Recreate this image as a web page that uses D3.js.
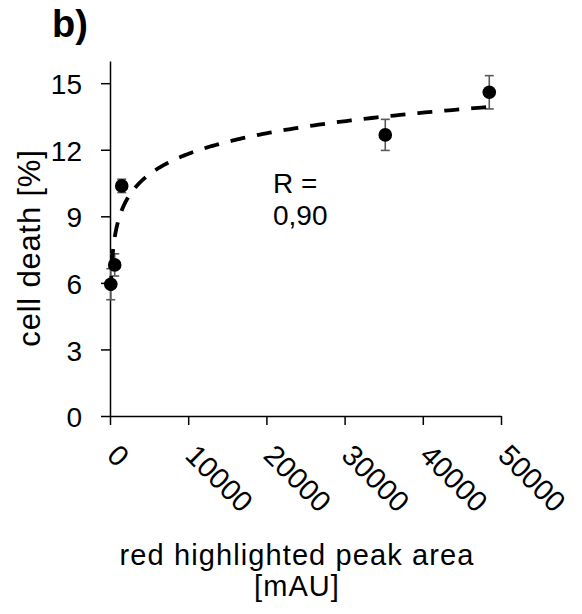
<!DOCTYPE html>
<html>
<head>
<meta charset="utf-8">
<script src="https://cdn.jsdelivr.net/npm/d3@7"></script>
<style>
  html, body { margin: 0; padding: 0; background: #fff; }
  svg { display: block; font-family: "Liberation Sans", Arial, sans-serif; }
</style>
</head>
<body>
<svg id="chart" width="582" height="614"></svg>
<script>
// ---- data ----
const peakArea  = [100, 600, 1500, 35200, 48500];   // x: red highlighted peak area [mAU]
const cellDeath = [5.94, 6.81, 10.37, 12.67, 14.59]; // y: cell death [%]
const errDeath  = [0.7, 0.5, 0.3, 0.7, 0.75];        // error bars
const xTicks = [0, 10000, 20000, 30000, 40000, 50000];
const yTicks = [0, 3, 6, 9, 12, 15];
const panelLabel = "b)";
const rLabel = ["R =", "0,90"];
const xTitle = ["red highlighted peak area", "[mAU]"];
const yTitle = "cell death [%]";

const svg = d3.select("#chart");
const x = d3.scaleLinear().domain([0, 50000]).range([110, 501]);
const y = d3.scaleLinear().domain([0, 16]).range([416, 61]);

// axes
const yAxis = d3.axisLeft(y).tickValues(yTicks).tickSizeInner(9).tickSizeOuter(0).tickPadding(19)
  .tickFormat(d3.format("d"));
const gy = svg.append("g").attr("transform", `translate(${x(0)},0)`).call(yAxis);
gy.selectAll("path, line").attr("stroke", "#000").attr("stroke-width", 1.5);
gy.selectAll("text").attr("font-size", 28).attr("fill", "#000").attr("dy", "0.38em")
  .attr("font-family", "Liberation Sans, Arial, sans-serif");

const xAxis = d3.axisBottom(x).tickValues(xTicks).tickSizeInner(9).tickSizeOuter(0)
  .tickFormat(d3.format("d"));
const gx = svg.append("g").attr("transform", `translate(0,${y(0)})`).call(xAxis);
gx.selectAll("path, line").attr("stroke", "#000").attr("stroke-width", 1.5);
gx.selectAll("text")
  .attr("font-size", 29).attr("fill", "#000")
  .attr("font-family", "Liberation Sans, Arial, sans-serif")
  .attr("text-anchor", "start")
  .attr("x", 0).attr("y", 0).attr("dy", 0)
  .attr("transform", "translate(-5,41) rotate(45)");

// error bars
const pts = peakArea.map((v, i) => ({ x: v, y: cellDeath[i], e: errDeath[i] }));
const eb = svg.append("g").attr("stroke", "#595959").attr("stroke-width", 1.6);
pts.forEach(p => {
  eb.append("line").attr("x1", x(p.x)).attr("x2", x(p.x)).attr("y1", y(p.y - p.e)).attr("y2", y(p.y + p.e));
  [p.y - p.e, p.y + p.e].forEach(v => {
    eb.append("line").attr("x1", x(p.x) - 4.5).attr("x2", x(p.x) + 4.5).attr("y1", y(v)).attr("y2", y(v));
  });
});

// markers
svg.append("g").selectAll("circle").data(pts).join("circle")
  .attr("cx", d => x(d.x)).attr("cy", d => y(d.y)).attr("r", 6.8).attr("fill", "#000");

// logarithmic trendline fitted to the data: y = a ln(x) + b
const lx = peakArea.map(Math.log);
const mx = d3.mean(lx), my = d3.mean(cellDeath);
const a = d3.sum(lx.map((v, i) => (v - mx) * (cellDeath[i] - my))) / d3.sum(lx.map(v => (v - mx) ** 2));
const b = my - a * mx;
const xmin = d3.min(peakArea), xmax = d3.max(peakArea);
const trend = d3.range(0, 301).map(i => {
  const t = i / 300;
  const xv = Math.exp(Math.log(xmin) + t * (Math.log(xmax) - Math.log(xmin)));
  return [xv, a * Math.log(xv) + b];
});
svg.append("path").datum(trend)
  .attr("d", d3.line().x(d => x(d[0])).y(d => y(d[1])))
  .attr("fill", "none").attr("stroke", "#000").attr("stroke-width", 3.8)
  .attr("stroke-dasharray", "15,12");

// R annotation
svg.append("text").attr("x", 273).attr("y", 193).attr("font-size", 28).text(rLabel[0]);
svg.append("text").attr("x", 273).attr("y", 225).attr("font-size", 28).text(rLabel[1]);

// titles
svg.append("text").attr("x", 297).attr("y", 565).attr("text-anchor", "middle").attr("font-size", 29)
  .attr("letter-spacing", 1.1).text(xTitle[0]);
svg.append("text").attr("x", 297).attr("y", 596).attr("text-anchor", "middle").attr("font-size", 29)
  .attr("letter-spacing", 1.1).text(xTitle[1]);
svg.append("text").attr("transform", "translate(40,248) rotate(-90)").attr("text-anchor", "middle")
  .attr("font-size", 31).attr("letter-spacing", 0.8).text(yTitle);

// panel label
svg.append("text").attr("x", 52).attr("y", 37).attr("font-size", 38).attr("font-weight", "bold").text(panelLabel);
</script>
</body>
</html>
